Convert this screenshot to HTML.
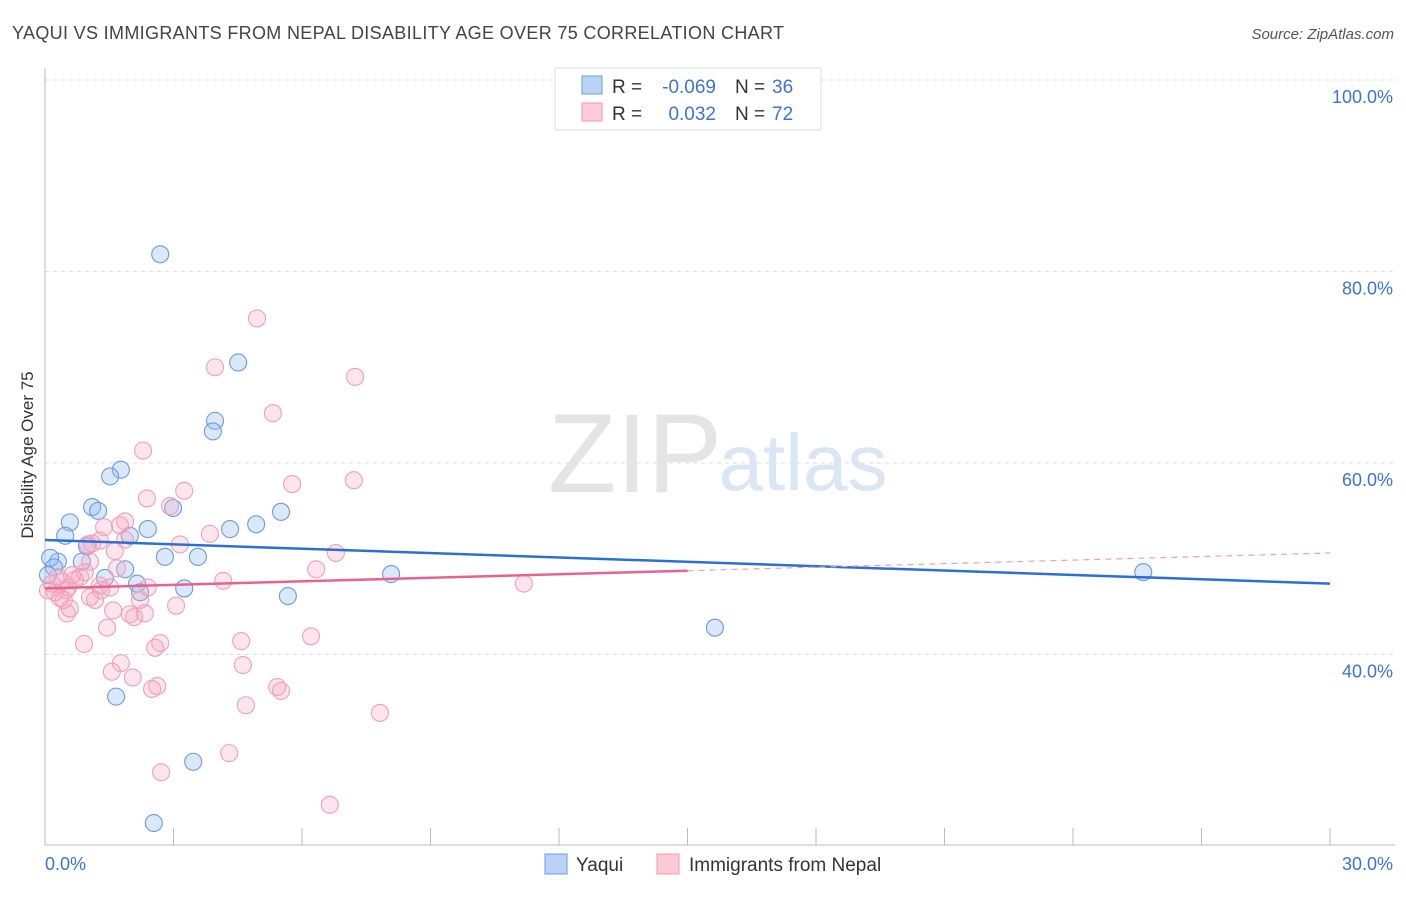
<!DOCTYPE html>
<html><head><meta charset="utf-8"><style>
body{margin:0;background:#fff;font-family:"Liberation Sans",sans-serif}
svg text{font-family:"Liberation Sans",sans-serif}
</style></head><body>
<svg width="1406" height="892" viewBox="0 0 1406 892">
<text x="12" y="39" font-size="18" fill="#444" textLength="772">YAQUI VS IMMIGRANTS FROM NEPAL DISABILITY AGE OVER 75 CORRELATION CHART</text>
<text x="1394" y="39" font-size="15" fill="#555" font-style="italic" text-anchor="end">Source: ZipAtlas.com</text>
<text x="33" y="455" font-size="17" fill="#333" text-anchor="middle" transform="rotate(-90 33 455)">Disability Age Over 75</text>
<g id="grid"></g>
<g id="ticks"></g>
<text x="635" y="492" font-size="112" fill="#e4e4e4" font-family="Liberation Serif" text-anchor="middle">ZIP</text>
<text x="803" y="490" font-size="80" fill="#dbe6f5" text-anchor="middle">atlas</text>
<g id="pts"></g>
<g id="lines"></g>
<g>
<rect x="555" y="68" width="266" height="62" fill="#fff" stroke="#ddd"/>
<rect x="582" y="76" width="20" height="18" fill="#b8d3f5" stroke="#6a9be0"/>
<rect x="582" y="103" width="20" height="18" fill="#fbcbd8" stroke="#eb9ab0"/>
<text x="612" y="93" font-size="19" fill="#333">R =</text>
<text x="716" y="93" font-size="19" fill="#3b74d1" text-anchor="end">-0.069</text>
<text x="735" y="93" font-size="19" fill="#333">N =</text>
<text x="772" y="93" font-size="19" fill="#3b74d1">36</text>
<text x="612" y="120" font-size="19" fill="#333">R =</text>
<text x="716" y="120" font-size="19" fill="#3b74d1" text-anchor="end">0.032</text>
<text x="735" y="120" font-size="19" fill="#333">N =</text>
<text x="772" y="120" font-size="19" fill="#3b74d1">72</text>
</g>
<g>
<rect x="545" y="854" width="22" height="20" fill="#b8d3f5" stroke="#6a9be0"/>
<text x="576" y="871" font-size="19" fill="#333">Yaqui</text>
<rect x="657" y="854" width="22" height="20" fill="#fbcbd8" stroke="#eb9ab0"/>
<text x="689" y="871" font-size="19" fill="#333">Immigrants from Nepal</text>
</g>
<text x="45" y="870" font-size="18" fill="#3b74d1">0.0%</text>
<text x="1393" y="870" font-size="18" fill="#3b74d1" text-anchor="end">30.0%</text>
</svg>
<script>
const yTicks=[100,80,60,40];
const yTickLabels=["100.0%","80.0%","60.0%","40.0%"];
const blueX=[2.69,4.51,3.97,3.92,1.77,1.52,1.10,1.24,0.58,2.99,2.40,4.32,4.93,5.51,0.47,1.98,0.98,0.30,0.86,0.12,0.21,1.87,1.40,2.15,2.22,3.25,3.57,2.80,5.67,8.08,15.64,25.64,1.66,3.46,2.54,0.07];
const blueY=[81.8,70.5,64.4,63.3,59.3,58.6,55.4,55.0,53.8,55.3,53.1,53.1,53.6,54.9,52.4,52.4,51.3,49.7,49.7,50.1,49.1,48.9,48.0,47.4,46.5,46.9,50.2,50.2,46.1,48.4,42.8,48.6,35.6,28.8,22.4,48.3];
const pinkX=[4.95,3.97,7.24,5.32,2.29,7.21,5.77,3.25,2.38,2.92,1.87,1.75,1.38,3.85,3.15,1.28,1.00,1.63,6.79,6.33,1.05,1.68,0.82,0.70,0.40,0.16,0.54,4.16,1.28,0.07,0.23,0.49,1.05,0.35,1.17,3.06,2.22,1.59,1.98,0.51,0.58,2.33,2.08,1.45,0.91,2.69,2.57,4.58,6.21,1.77,4.62,1.56,2.05,2.62,2.50,5.42,5.51,4.69,7.82,4.30,2.71,6.65,11.18,1.31,1.52,0.93,0.30,0.63,0.44,1.87,2.40,1.10];
const pinkY=[75.1,70.0,69.0,65.2,61.3,58.2,57.8,57.1,56.3,55.5,53.9,53.5,53.3,52.6,51.5,51.9,51.5,50.8,50.6,48.9,49.7,49.0,48.1,47.8,47.6,47.4,47.0,47.7,47.2,46.7,46.5,46.7,46.0,45.9,45.7,45.1,45.7,44.6,44.2,44.3,44.8,44.3,43.9,42.8,41.1,41.2,40.7,41.4,41.9,39.1,38.9,38.2,37.6,36.7,36.4,36.6,36.2,34.7,33.9,29.7,27.7,24.3,47.4,46.7,47.0,48.6,48.1,48.3,45.7,52.0,47.0,51.6];
const blueTrend=[51.96,47.4];
const pinkTrend=[46.9,50.6];
const NS="http://www.w3.org/2000/svg";
const X=v=>45+v*(1285/30);
const Y=v=>80+(100-v)*9.575;
function mk(tag,attrs,parent){const e=document.createElementNS(NS,tag);for(const k in attrs)e.setAttribute(k,attrs[k]);document.getElementById(parent).appendChild(e);return e;}
yTicks.forEach((t,i)=>{
 const l=mk('line',{x1:45,x2:1395,y1:Y(t),y2:Y(t),stroke:'#ddd','stroke-dasharray':'4,4'},'grid');
 
 
 const tx=mk('text',{x:1393,y:Y(t)+23,'font-size':18,fill:'#3b74d1','text-anchor':'end'},'grid');
 tx.textContent=yTickLabels[i];
 
 
});
const ax=mk('line',{x1:45,x2:45,y1:68,y2:845,stroke:'#bbb'},'ticks');


const bx=mk('line',{x1:45,x2:1395,y1:845,y2:845,stroke:'#bbb'},'ticks');


for(let i=1;i<=10;i++){
 const t=mk('line',{x1:X(i*3),x2:X(i*3),y1:828,y2:845,stroke:'#bbb'},'ticks');
 
 
}
blueX.forEach((x,i)=>{
 const c=mk('circle',{cx:X(x),cy:Y(blueY[i]),r:8.5,fill:'rgba(150,190,240,0.35)',stroke:'#6a9be0','stroke-width':1.1},'pts');
 
 
});
pinkX.forEach((x,i)=>{
 const c=mk('circle',{cx:X(x),cy:Y(pinkY[i]),r:8.5,fill:'rgba(246,170,192,0.3)',stroke:'#efa0b8','stroke-width':1.1},'pts');
 
 
});
const bl=mk('line',{x1:X(0),y1:Y(blueTrend[0]),x2:X(30),y2:Y(blueTrend[1]),stroke:'#2a6fd6','stroke-width':2.5},'lines');


const pm=pinkTrend[0]+(pinkTrend[1]-pinkTrend[0])*0.5;
const pl=mk('line',{x1:X(0),y1:Y(pinkTrend[0]),x2:X(15),y2:Y(pm),stroke:'#e8628f','stroke-width':2.5},'lines');


const pd=mk('line',{x1:X(15),y1:Y(pm),x2:X(30),y2:Y(pinkTrend[1]),stroke:'#eaa0b8','stroke-width':1.2,'stroke-dasharray':'6,5'},'lines');


</script>
</body></html>
